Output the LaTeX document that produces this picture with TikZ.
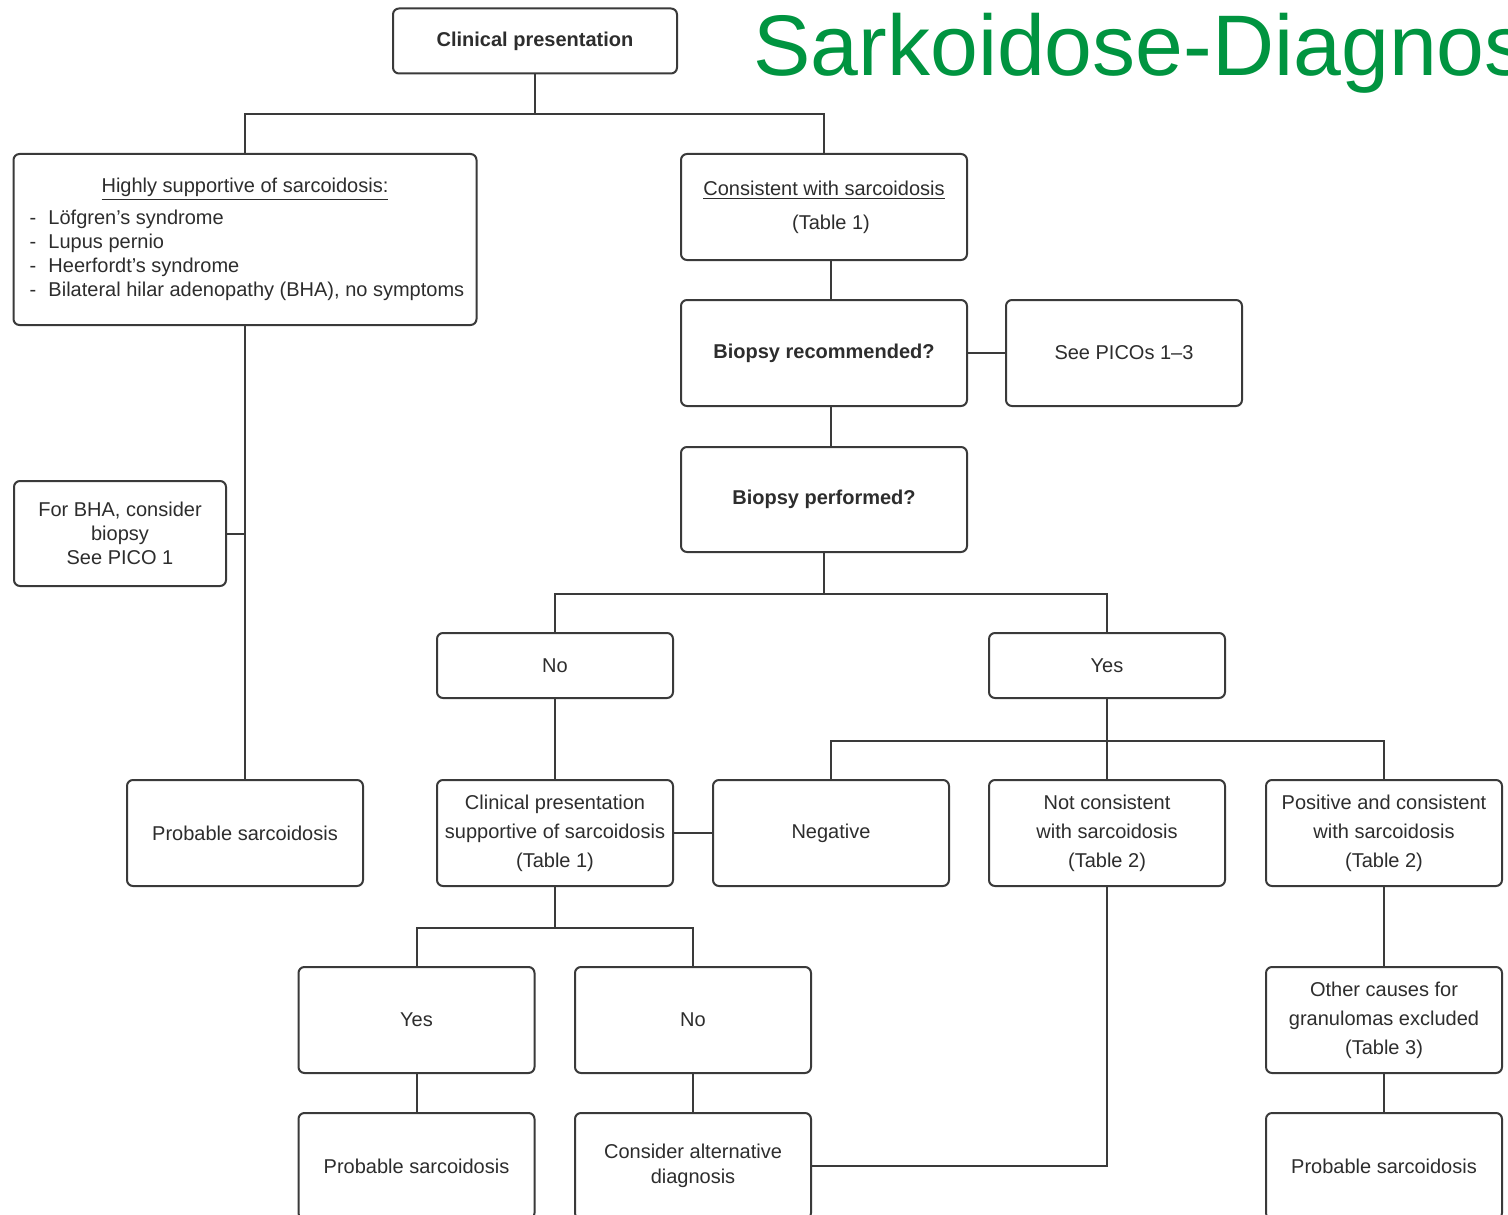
\documentclass[tikz,border=0pt]{standalone}
\usepackage{fontspec}
\setmainfont{Liberation Sans}
\definecolor{lc}{RGB}{58,58,58}
\definecolor{tc}{RGB}{45,45,45}
\definecolor{tgreen}{RGB}{0,148,64}
\newcommand\lstitem[1]{\makebox[215.5pt][l]{\makebox[9.5pt][l]{-}#1}}
\begin{document}
\begin{tikzpicture}[x=0.5pt,y=-0.5pt,
  box/.style={draw=lc, line width=1pt, rounded corners=3pt, align=center,
    inner sep=0pt, text=tc, font=\fontsize{10}{14.5}\selectfont,
    minimum width=118pt, minimum height=53pt},
  bigbox/.style={box, minimum width=143pt},
  conn/.style={draw=lc, line width=1pt}]
\useasboundingbox (0,0) rectangle (1508,1214);
\clip (0,0) rectangle (1508,1214);
\fill[white] (0,0) rectangle (1508,1214);

\node[anchor=base west, inner sep=0pt, text=tgreen, font=\fontsize{43}{43}\selectfont] (title) at (753,76) {Sarkoidose-Diagnos};

\node[box, minimum width=142pt, minimum height=32.5pt, font=\fontsize{10}{12}\bfseries] (cp) at (535,41) {Clinical presentation};
\node[box, minimum width=231.5pt, minimum height=85.5pt, font=\fontsize{10}{12}\selectfont] (hs) at (245,239.5)
  {\underline{Highly supportive of sarcoidosis:}\\[4pt]
   \lstitem{Löfgren's syndrome}\\
   \lstitem{Lupus pernio}\\
   \lstitem{Heerfordt's syndrome}\\
   \lstitem{Bilateral hilar adenopathy (BHA), no symptoms}};
\node[bigbox, font=\fontsize{10}{17}\selectfont] (cons) at (824,207) {\underline{Consistent with sarcoidosis}\\\hspace*{7pt}(Table 1)};
\node[bigbox, font=\fontsize{10}{12}\bfseries] (brec) at (824,353) {Biopsy recommended?};
\node[box] (pico) at (1124,353) {See PICOs 1–3};
\node[bigbox, minimum height=52.5pt, font=\fontsize{10}{12}\bfseries] (bperf) at (824,499.5) {Biopsy performed?};
\node[box, minimum width=106pt, minimum height=52.5pt, font=\fontsize{10}{12}\selectfont] (bha) at (120,533.5) {For BHA, consider\\biopsy\\See PICO 1};

\node[box, minimum height=32.5pt] (no) at (555,665.5) {No};
\node[box, minimum height=32.5pt] (yes) at (1107,665.5) {Yes};

\node[box] (probL) at (245,833) {Probable sarcoidosis};
\node[box] (cps) at (555,833) {Clinical presentation\\supportive of sarcoidosis\\(Table 1)};
\node[box] (neg) at (831,833) {Negative};
\node[box] (notc) at (1107,833) {Not consistent\\with sarcoidosis\\(Table 2)};
\node[box] (pos) at (1384,833) {Positive and consistent\\with sarcoidosis\\(Table 2)};

\node[box] (yesL) at (416.5,1020) {Yes};
\node[box] (noL) at (693,1020) {No};
\node[box] (other) at (1384,1020) {Other causes for\\granulomas excluded\\(Table 3)};

\node[box] (probB) at (416.5,1166) {Probable sarcoidosis};
\node[box, font=\fontsize{10}{12.5}\selectfont] (alt) at (693,1166) {Consider alternative\\diagnosis};
\node[box] (probR) at (1384,1166) {Probable sarcoidosis};

% connectors
\draw[conn] (cp.south) -- ++(0,40) -| (hs.north);
\draw[conn] (cp.south) ++(0,40) -| (cons.north);
\draw[conn] (hs.south) -- (probL.north);
\draw[conn] (bha.east) -- (bha.east -| hs.south);
\draw[conn] ([xshift=3.5pt]cons.south) -- ([xshift=3.5pt]brec.north);
\draw[conn] (brec.east) -- (pico.west);
\draw[conn] ([xshift=3.5pt]brec.south) -- ([xshift=3.5pt]bperf.north);
\draw[conn] (bperf.south) -- ++(0,41) -| (no.north);
\draw[conn] (bperf.south) ++(0,41) -| (yes.north);
\draw[conn] (no.south) -- (cps.north);
\draw[conn] (cps.east) -- (neg.west);
\draw[conn] (yes.south) -- ++(0,42) -| (neg.north);
\draw[conn] (yes.south) ++(0,42) -| (pos.north);
\draw[conn] (yes.south) -- (notc.north);
\draw[conn] (cps.south) -- ++(0,41) -| (yesL.north);
\draw[conn] (cps.south) ++(0,41) -| (noL.north);
\draw[conn] (yesL.south) -- (probB.north);
\draw[conn] (noL.south) -- (alt.north);
\draw[conn] (notc.south) |- (alt.east);
\draw[conn] (pos.south) -- (other.north);
\draw[conn] (other.south) -- (probR.north);
\end{tikzpicture}
\end{document}
